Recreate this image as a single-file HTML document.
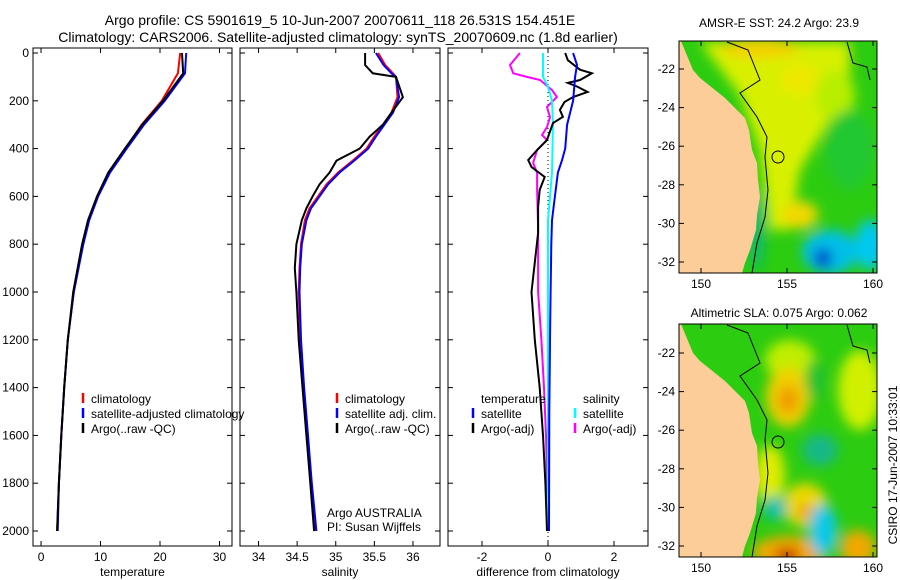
<!DOCTYPE html>
<html><head><meta charset="utf-8"><style>
body{margin:0;background:#fff;}
svg{display:block;font-family:"Liberation Sans",sans-serif;}
</style></head><body>
<svg id="fig" width="900" height="580" viewBox="0 0 900 580">
<defs>
<filter id="bl" x="-50%" y="-50%" width="200%" height="200%"><feGaussianBlur stdDeviation="6"/></filter>
<clipPath id="c1"><rect x="679" y="41" width="198" height="232"/></clipPath>
<clipPath id="c2"><rect x="679" y="324" width="198" height="233"/></clipPath>
</defs>
<text x="340" y="25" font-size="14" text-anchor="middle">Argo profile: CS 5901619_5 10-Jun-2007 20070611_118 26.531S 154.451E</text>
<text x="338" y="42" font-size="14" text-anchor="middle">Climatology: CARS2006. Satellite-adjusted climatology: synTS_20070609.nc (1.8d earlier)</text>

<g clip-path="url(#c1)">
<rect x="679" y="41" width="198" height="232" fill="#2ccc10"/>
<g filter="url(#bl)">
<polygon points="700,42 850,42 850,90 830,120 800,170 790,230 770,230 760,150 740,95" fill="#d8f000"/>
<ellipse cx="760" cy="48" rx="40" ry="10" fill="#f5d000"/>
<ellipse cx="800" cy="80" rx="20" ry="15" fill="#eee800"/>
<ellipse cx="835" cy="95" rx="20" ry="25" fill="#b8ee00"/>
<ellipse cx="800" cy="215" rx="18" ry="14" fill="#f2d800"/>
<ellipse cx="840" cy="160" rx="12" ry="14" fill="#b0e800"/>
<ellipse cx="830" cy="252" rx="28" ry="22" fill="#00c0e8"/>
<ellipse cx="823" cy="258" rx="9" ry="10" fill="#0040c8"/>
<ellipse cx="870" cy="245" rx="15" ry="25" fill="#00c8f0"/>
<ellipse cx="850" cy="150" rx="25" ry="40" fill="#22c830"/>
<ellipse cx="757" cy="230" rx="8" ry="40" fill="#10b870"/>
</g>
<polygon fill="#fccc99" points="679,41 681,41 693,70 700,78 715,90 725,98 737,110 745,118 749,130 752,150 757,163 758,180 760,197 757,215 756,230 750,250 745,263 742,273 679,273"/>
<polyline fill="none" stroke="#000" stroke-width="1" points="727,42 748,50 760,80 740,93 757,117 767,137 765,157 768,190 765,217 757,243 752,273"/>
<polyline fill="none" stroke="#000" stroke-width="1" points="847,42 853,63 867,67 870,80"/>
<circle cx="778" cy="157" r="6" fill="none" stroke="#000"/>
</g>
<rect x="679" y="41" width="198" height="232" fill="none" stroke="#000"/>
<text x="779" y="27" font-size="12" text-anchor="middle">AMSR-E SST: 24.2 Argo: 23.9</text>

<g clip-path="url(#c2)">
<rect x="679" y="324" width="198" height="233" fill="#2ccc10"/>
<g filter="url(#bl)">
<ellipse cx="790" cy="360" rx="25" ry="20" fill="#c0ee00"/>
<ellipse cx="860" cy="390" rx="22" ry="40" fill="#d0f000"/>
<ellipse cx="770" cy="475" rx="15" ry="30" fill="#e0ec00"/>
<ellipse cx="788" cy="397" rx="22" ry="30" fill="#f0d000"/>
<ellipse cx="788" cy="400" rx="10" ry="14" fill="#f09800"/>
<ellipse cx="805" cy="505" rx="22" ry="22" fill="#ecd800"/>
<ellipse cx="805" cy="512" rx="8" ry="8" fill="#f0a000"/>
<ellipse cx="790" cy="552" rx="38" ry="16" fill="#f0a800"/>
<ellipse cx="787" cy="556" rx="12" ry="8" fill="#c02800"/>
<ellipse cx="858" cy="548" rx="18" ry="18" fill="#f0a800"/>
<ellipse cx="820" cy="450" rx="18" ry="16" fill="#18b888"/>
<ellipse cx="823" cy="530" rx="14" ry="26" fill="#10c8e8"/>
<ellipse cx="775" cy="508" rx="12" ry="12" fill="#10c0b0"/>
<ellipse cx="815" cy="380" rx="10" ry="20" fill="#20c030"/>
</g>
<polygon fill="#fccc99" points="679,324 681,324 693,353 700,361 715,373 725,381 737,393 745,401 749,413 752,433 757,446 758,463 760,480 757,498 756,513 750,533 745,546 742,557 679,557"/>
<polyline fill="none" stroke="#000" stroke-width="1" points="727,325 748,333 760,363 740,376 757,400 767,420 765,440 768,473 765,500 757,526 752,557"/>
<polyline fill="none" stroke="#000" stroke-width="1" points="847,325 853,346 867,350 870,363"/>
<circle cx="778" cy="442" r="6" fill="none" stroke="#000"/>
</g>
<rect x="679" y="324" width="198" height="233" fill="none" stroke="#000"/>
<text x="779" y="317" font-size="12" text-anchor="middle">Altimetric SLA: 0.075 Argo: 0.062</text>
<text transform="translate(897,465) rotate(-90)" font-size="12" text-anchor="middle">CSIRO 17-Jun-2007 10:33:01</text>
<text x="327" y="517" font-size="12">Argo AUSTRALIA</text>
<text x="327" y="531" font-size="12">PI: Susan Wijffels</text>
</svg>
<script>
const NS="http://www.w3.org/2000/svg";
const svg=document.getElementById('fig');
const tDepths=[0,85,200,300,400,500,600,700,800,1000,1200,1400,1600,1800,2000];
const tempArgo=[23.7,23.9,20.5,17.0,14.1,11.3,9.4,7.9,6.9,5.4,4.5,3.9,3.4,3.0,2.7];
const tempClim=[23.4,23.0,20.3,16.9,14.2,11.5,9.5,8.0,7.0,5.5,4.5,3.9,3.4,3.0,2.7];
const tempSat=[24.4,24.2,20.8,17.3,14.4,11.6,9.6,8.1,7.1,5.5,4.5,3.9,3.4,3.0,2.8];
const sDepths=[0,50,85,100,185,250,300,350,400,450,500,550,600,650,700,800,900,1000,1200,1400,1600,1800,2000];
const salArgo=[35.38,35.38,35.48,35.78,35.87,35.72,35.61,35.44,35.31,35.01,34.92,34.79,34.70,34.62,34.56,34.49,34.47,34.49,34.52,34.57,34.62,34.67,34.72];
const salClim=[35.55,35.64,35.74,35.78,35.80,35.72,35.61,35.50,35.40,35.22,35.03,34.88,34.77,34.66,34.60,34.55,34.53,34.52,34.54,34.58,34.63,34.68,34.73];
const salSat=[35.52,35.62,35.72,35.78,35.82,35.74,35.63,35.52,35.42,35.24,35.05,34.90,34.79,34.68,34.62,34.56,34.54,34.53,34.55,34.59,34.64,34.69,34.75];
const bDepths=[0,30,70,85,113,125,140,163,184,205,238,267,293,364,406,448,477,519,573,644,753,1000,1200,1400,1600,1800,2000];
const dTempArgo=[0.52,0.6,0.97,1.33,0.97,0.6,0.88,1.2,0.76,0.5,0.36,0.45,0.15,-0.03,-0.33,-0.6,-0.5,-0.1,-0.25,-0.3,-0.3,-0.5,-0.4,-0.25,-0.15,-0.08,-0.03];
const mDepths=[0,50,85,100,113,155,184,226,268,310,343,364,406,460,502,573,728,1000,1200,1400,1600,1800,2000];
const dSalArgo=[-0.85,-1.15,-1.05,-0.64,-0.24,0.12,0.27,-0.03,0.06,-0.03,-0.18,-0.03,-0.33,-0.45,-0.33,-0.33,-0.3,-0.3,-0.2,-0.12,-0.06,-0.03,-0.02];
const cDepths=[0,100,140,200,300,500,700,1000,1500,2000];
const dSalSat=[-0.15,-0.15,0.0,0.12,0.15,0.12,0.0,0.0,0.0,0.0];
const uDepths=[0,50,100,200,250,300,400,450,500,600,700,800,1000,1200,1500,2000];
const dTempSat=[0.76,0.88,0.82,0.76,0.67,0.58,0.52,0.42,0.3,0.21,0.12,0.1,0.08,0.06,0.04,0.03];
const depthTicks=[0,200,400,600,800,1000,1200,1400,1600,1800,2000];
const tempTicks=[0,10,20,30],salTicks=[34,34.5,35,35.5,36],diffTicks=[-2,0,2];
const latTicks=[-22,-24,-26,-28,-30,-32],lonTicks=[150,155,160];

function el(t,a,p){const e=document.createElementNS(NS,t);for(const k in a)e.setAttribute(k,a[k]);(p||svg).appendChild(e);return e;}
const Y=d=>53+d*0.239;
const panels=[
 {x0:33,x1:232,lo:-1.35,hi:32.1,ticks:tempTicks,label:'temperature',name:'temperature'},
 {x0:240,x1:440,lo:33.76,hi:36.35,ticks:salTicks,label:'salinity',name:'salinity'},
 {x0:448,x1:648,lo:-3.03,hi:3.03,ticks:diffTicks,label:'difference from climatology',name:'difference'}];
panels.forEach((p,i)=>{
 const X=v=>p.x0+(v-p.lo)/(p.hi-p.lo)*(p.x1-p.x0);p.X=X;
 const g=el('g',{});
 
 
 el('rect',{x:p.x0,y:48,width:p.x1-p.x0,height:498,fill:'none',stroke:'#000'},g);
 depthTicks.forEach(d=>{el('line',{x1:p.x0,x2:p.x0+5,y1:Y(d),y2:Y(d),stroke:'#000'},g);el('line',{x1:p.x1,x2:p.x1-5,y1:Y(d),y2:Y(d),stroke:'#000'},g);
  if(i==0){const t=el('text',{x:29,y:Y(d)+4,'font-size':12,'text-anchor':'end'},g);t.textContent=d;
   
   }});
 p.ticks.forEach(v=>{el('line',{x1:X(v),x2:X(v),y1:48,y2:53,stroke:'#000'},g);el('line',{x1:X(v),x2:X(v),y1:546,y2:541,stroke:'#000'},g);
  const t=el('text',{x:X(v),y:561,'font-size':12,'text-anchor':'middle'},g);t.textContent=v;
  
  });
 const t=el('text',{x:(p.x0+p.x1)/2,y:576,'font-size':12,'text-anchor':'middle'},g);t.textContent=p.label;
 
 
});
function line(p,xs,ds,col,name){const pts=xs.map((v,i)=>p.X(v).toFixed(1)+','+Y(ds[i]).toFixed(1)).join(' ');
 const l=el('polyline',{points:pts,fill:'none',stroke:col,'stroke-width':2});
 
 }
line(panels[0],tempClim,tDepths,'#f00','temp-climatology-line');
line(panels[0],tempSat,tDepths,'#00f','temp-satellite-line');
line(panels[0],tempArgo,tDepths,'#000','temp-argo-line');
line(panels[1],salClim,sDepths,'#f00','sal-climatology-line');
line(panels[1],salSat,sDepths,'#00f','sal-satellite-line');
line(panels[1],salArgo,sDepths,'#000','sal-argo-line');
el('line',{x1:panels[2].X(0),x2:panels[2].X(0),y1:48,y2:546,stroke:'#000','stroke-dasharray':'1,3'});
line(panels[2],dSalArgo,mDepths,'#f0f','diff-sal-argo-line');
line(panels[2],dSalSat,cDepths,'#0ff','diff-sal-sat-line');
line(panels[2],dTempArgo,bDepths,'#000','diff-temp-argo-line');
line(panels[2],dTempSat,uDepths,'#00f','diff-temp-sat-line');
function leg(x,y,col,txt){el('line',{x1:x,x2:x,y1:y-10,y2:y,stroke:col,'stroke-width':2.5});
 const t=el('text',{x:x+8,y:y,'font-size':12});t.textContent=txt;
 
 }
leg(83,403,'#f00','climatology');leg(83,418,'#00f','satellite-adjusted climatology');leg(83,433,'#000','Argo(..raw -QC)');
leg(337,403,'#f00','climatology');leg(337,418,'#00f','satellite adj. clim.');leg(337,433,'#000','Argo(..raw -QC)');
let tt=el('text',{x:481,y:403,'font-size':12});tt.textContent='temperature';


tt=el('text',{x:583,y:403,'font-size':12});tt.textContent='salinity';


leg(473,418,'#00f','satellite');leg(473,433,'#000','Argo(-adj)');leg(575,418,'#0ff','satellite');leg(575,433,'#f0f','Argo(-adj)');
[[69,19.3,41,273],[353,19.3,324,557]].forEach(([y22,s,top,bot])=>{
 latTicks.forEach(l=>{const y=y22+(-22-l)*s;el('line',{x1:679,x2:684,y1:y,y2:y,stroke:'#000'});el('line',{x1:877,x2:872,y1:y,y2:y,stroke:'#000'});
  const t=el('text',{x:675,y:y+4,'font-size':12,'text-anchor':'end'});t.textContent=l;
  
  });
 lonTicks.forEach(l=>{const x=701+(l-150)*17.2;el('line',{x1:x,x2:x,y1:top,y2:top+5,stroke:'#000'});el('line',{x1:x,x2:x,y1:bot,y2:bot-5,stroke:'#000'});
  const t=el('text',{x:x,y:bot+15,'font-size':12,'text-anchor':'middle'});t.textContent=l;
  
  });
});
</script>
</body></html>
